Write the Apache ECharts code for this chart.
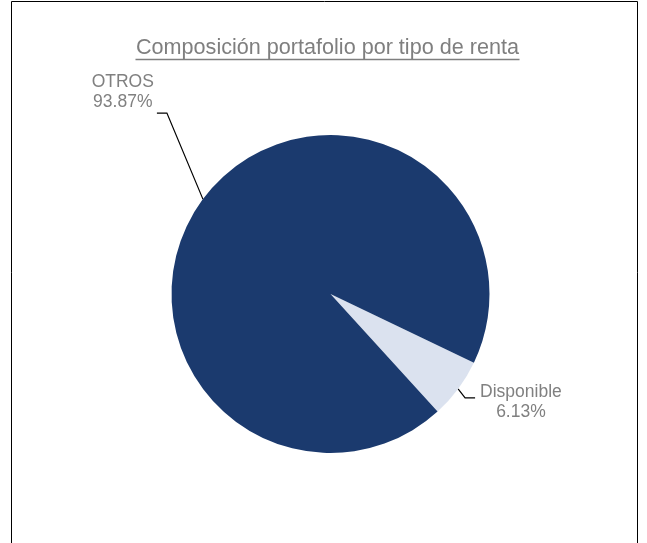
<!DOCTYPE html>
<html>
<head>
<meta charset="utf-8">
<script src="https://cdn.jsdelivr.net/npm/echarts@6/dist/echarts.min.js"></script>
<style>
html,body{margin:0;padding:0;background:#fff;}
#chart{width:647px;height:543px;}
</style>
</head>
<body>
<div id="chart"></div>
<script>
// ---- data ----
const titleText = 'Composición portafolio por tipo de renta';
const categories = ['Disponible', 'OTROS'];
const values = [6.13, 93.87];

// ---- styles ----
const sliceColors = ['#dbe2ef', '#1b3a6e'];
// label leader geometry (relative offsets from the library-computed anchor)
const leader = [
  { elbow: [7, 9], arm: 10, side: 1, gap: 5, dyTop: -16 },
  { elbow: [-36, -86], arm: 10, side: -1, gap: 3, dyTop: null }
];

const chart = echarts.init(document.getElementById('chart'), null, { renderer: 'canvas' });

const option = {
  animation: false,
  backgroundColor: '#fff',
  title: {
    text: titleText,
    left: 131,
    top: 32,
    padding: 5,
    textStyle: {
      fontFamily: 'Liberation Sans, Arial, sans-serif',
      fontSize: 21.6,
      fontWeight: 'normal',
      color: '#7f7f7f'
    }
  },
  graphic: [
    {
      type: 'rect',
      shape: { x: 11.5, y: 1.5, width: 626, height: 620 },
      style: { fill: 'none', stroke: '#000', lineWidth: 1 },
      silent: true
    },
    {
      type: 'line',
      shape: { x1: 135.5, y1: 59.5, x2: 519.5, y2: 59.5 },
      style: { stroke: '#7f7f7f', lineWidth: 1.3 },
      silent: true
    }
  ],
  series: [
    {
      type: 'pie',
      center: [330.5, 294],
      radius: 159,
      startAngle: -25.6,
      clockwise: true,
      avoidLabelOverlap: false,
      emphasis: { disabled: true },
      data: categories.map((c, i) => ({
        name: c,
        value: values[i],
        itemStyle: { color: sliceColors[i] }
      })),
      label: {
        show: true,
        position: 'outside',
        formatter: '{b}\n{d}%',
        fontFamily: 'Liberation Sans, Arial, sans-serif',
        fontSize: 17.5,
        lineHeight: 20,
        color: '#808080'
      },
      labelLine: {
        show: true,
        length: 10,
        length2: 10,
        lineStyle: { color: '#000', width: 1.2 }
      },
      labelLayout: function (p) {
        const pts = p.labelLinePoints;
        if (!pts) return {};
        const g = leader[p.dataIndex];
        const a = pts[0];
        const r = p.labelRect;
        const elbow = [a[0] + g.elbow[0], a[1] + g.elbow[1]];
        const end = [elbow[0] + g.side * g.arm, elbow[1]];
        const x = end[0] + g.side * (g.gap + r.width / 2);
        const y = g.dyTop === null ? end[1] - r.height - 1 : end[1] + g.dyTop;
        return {
          x: x,
          y: y,
          align: 'center',
          verticalAlign: 'top',
          labelLinePoints: [a, elbow, end]
        };
      }
    }
  ]
};

chart.setOption(option);
</script>
</body>
</html>
